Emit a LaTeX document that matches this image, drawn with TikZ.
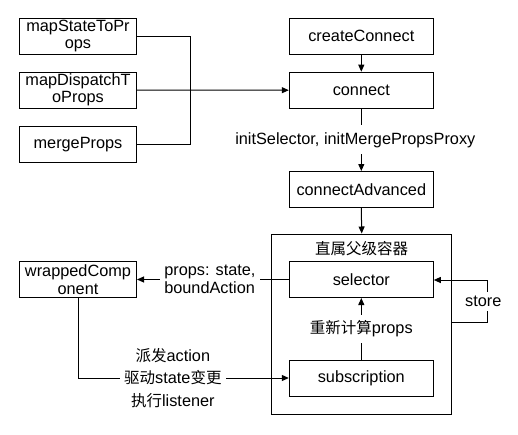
\documentclass[tikz,border=0pt]{standalone}
\usepackage{fontspec}
\setmainfont{Liberation Sans}
\newfontfamily\cjk{Noto Sans CJK SC}
\usetikzlibrary{arrows.meta}
\begin{document}
\begin{tikzpicture}[x=1pt,y=-1pt,
  every node/.style={font=\fontsize{16.3}{17.5}\selectfont},
  lbox/.style={draw,line width=1pt,minimum width=117pt,minimum height=36pt,align=center,inner sep=0pt},
  rbox/.style={draw,line width=1pt,minimum width=144pt,minimum height=36pt,align=center,inner sep=0pt},
  conn/.style={line width=1pt},
  arr/.style={line width=1pt,-{Triangle[length=7pt,width=6pt]}},
  lbl/.style={fill=white,inner xsep=4pt,inner ysep=2pt}]
\useasboundingbox (0,0) rectangle (518,434);
% left boxes
\node[lbox] (msp) at (78,36.2) {mapStateToPr\\ops};
\node[lbox] (mdp) at (78,90) {mapDispatchT\\oProps};
\node[lbox] (mp) at (78,144.2) {mergeProps};
\node[lbox] (wc) at (78,279.5) {wrappedComp\\onent};
% right column
\node[rbox] (cc) at (361.3,36.2) {createConnect};
\node[rbox] (cn) at (361.3,90.2) {connect};
\node[rbox] (ca) at (361.3,189.5) {connectAdvanced};
\node[draw,line width=1pt,minimum width=180pt,minimum height=180.3pt,inner sep=0pt] (box) at (361.7,324.15) {};
\node[font=\cjk\fontsize{15.5}{17.5}\selectfont] (title) at (361.5,248.5) {直属父级容器};
\node[rbox] (sel) at (361.3,279.5) {selector};
\node[rbox] (sub) at (361.3,378) {subscription};
% connectors
\coordinate (j) at (190,90);
\draw[conn] (msp.east) -| (j);
\draw[conn] (mp.east) -| (j);
\draw[arr] (mdp.east) -- (cn.west);
\draw[arr] (cc.south) -- (cn.north);
\draw[arr] (cn.south) -- node[lbl,inner ysep=7pt,xshift=-6pt] {initSelector, initMergePropsProxy} (ca.north);
\draw[arr] (ca.south) -- (box.north);
\draw[arr] (sub.north) -- node[lbl,inner ysep=6pt] {{\cjk\fontsize{15.5}{17.5}\selectfont 重新计算}props} (sel.south);
\coordinate (s1) at (487.3,322.7);
\coordinate (s2) at (487.3,280);
\draw[arr] (box.east |- s1) -- (s1) -- node[lbl,inner ysep=4pt,xshift=-4pt] {store} (s2) -- (sel.east |- s2);
\draw[arr] (sel.west) -- node[lbl,align=left,xshift=-3pt] {props: state,\\boundAction} (wc.east);
\draw[arr] (wc.south) |- node[lbl,pos=0.725,align=center,font=\fontsize{16.3}{22.5}\selectfont] {{\cjk\fontsize{15.5}{22.5}\selectfont 派发}action\\{\cjk\fontsize{15.5}{22.5}\selectfont 驱动}state{\cjk\fontsize{15.5}{22.5}\selectfont 变更}\\{\cjk\fontsize{15.5}{22.5}\selectfont 执行}listener} (sub.west);
\end{tikzpicture}
\end{document}
